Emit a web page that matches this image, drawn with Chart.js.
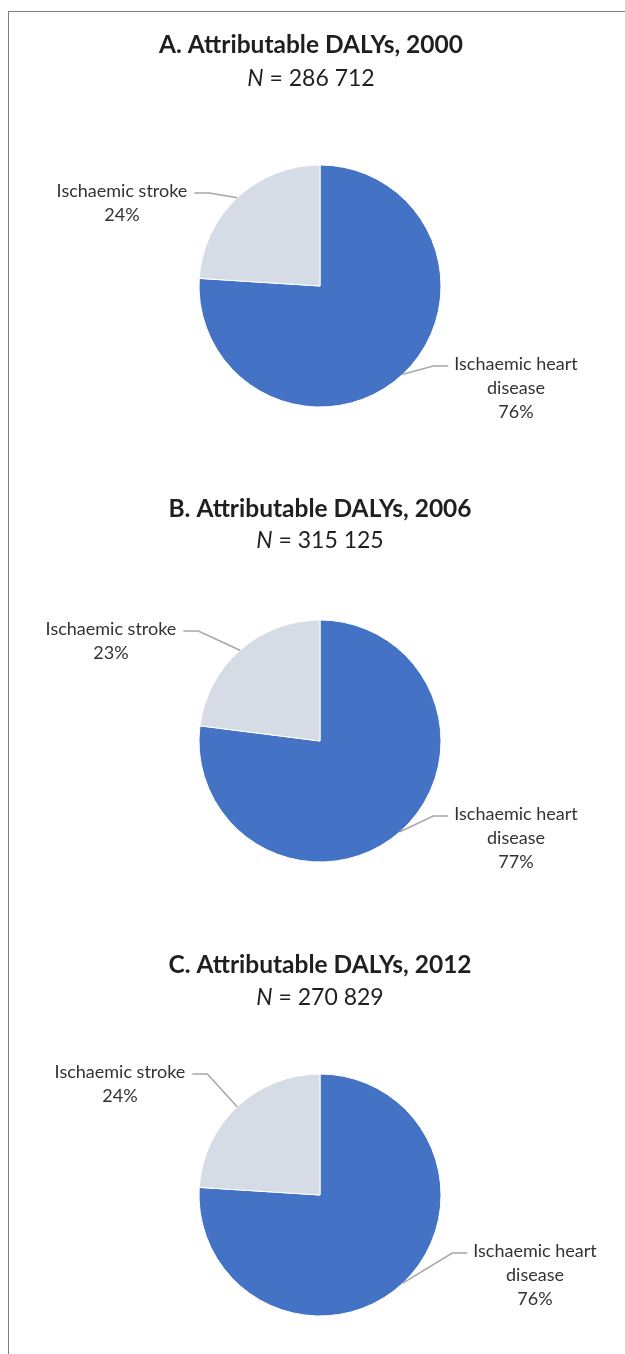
<!DOCTYPE html>
<html>
<head>
<meta charset="utf-8">
<script src="https://cdn.jsdelivr.net/npm/chart.js@4.4.1/dist/chart.umd.min.js"></script>
<style>
  html, body { margin: 0; padding: 0; background: #fff; }
  body { width: 625px; height: 1354px; position: relative; overflow: hidden; }
  #frame { position: absolute; left: 8px; top: 11px; right: -2px; bottom: -2px;
           border-top: 1px solid #7f7f7f; border-left: 1px solid #7f7f7f; }
  .panel { position: absolute; left: 0; width: 625px; }
</style>
</head>
<body>
<div id="frame"></div>
<div class="panel" style="top:0px;height:455px"><canvas id="chartA"></canvas></div>
<div class="panel" style="top:455px;height:455px"><canvas id="chartB"></canvas></div>
<div class="panel" style="top:910px;height:444px"><canvas id="chartC"></canvas></div>
<script>
// data
var categories = ['Ischaemic heart disease', 'Ischaemic stroke'];
var categoryLines = [['Ischaemic heart', 'disease'], ['Ischaemic stroke']];
var panelLetters = ['A', 'B', 'C'];
var years = ['2000', '2006', '2012'];
var totals = ['286 712', '315 125', '270 829'];
var heartShare = [76, 77, 76];
var strokeShare = [24, 23, 24];

var colors = ['#4472C4', '#D6DCE5'];
var FONT = 'Lato, "Open Sans", sans-serif';

// per panel layout (pie centre inside canvas, title baselines, label anchors)
var layouts = [
    { cx: 320, cy: 286, titleX: 311, titleY: 53, subY: 86,
      labels: [{ dx: 196, dy: 84 }, { dx: -198, dy: -89 }] },
    { cx: 320, cy: 286, titleX: 320, titleY: 62, subY: 93,
      labels: [{ dx: 196, dy: 79 }, { dx: -209, dy: -106 }] },
    { cx: 320, cy: 285, titleX: 320, titleY: 63, subY: 95,
      labels: [{ dx: 215, dy: 62 }, { dx: -200, dy: -117 }] }
];

var pieLabels = {
    id: 'pieLabels',
    afterDatasetsDraw: function (chart, args, opts) {
        var ctx = chart.ctx;
        var meta = chart.getDatasetMeta(0);
        var data = chart.data.datasets[0].data;
        var sum = data.reduce(function (a, b) { return a + b; }, 0);
        ctx.save();
        ctx.font = '18px ' + FONT;
        ctx.fillStyle = '#333333';
        ctx.textAlign = 'center';
        ctx.textBaseline = 'alphabetic';
        meta.data.forEach(function (arc, i) {
            var p = arc.getProps(['x', 'y', 'startAngle', 'endAngle', 'outerRadius'], true);
            var mid = (p.startAngle + p.endAngle) / 2;
            var ax = p.x + Math.cos(mid) * p.outerRadius;
            var ay = p.y + Math.sin(mid) * p.outerRadius;
            var lines = categoryLines[i].concat([Math.round(data[i] / sum * 100) + '%']);
            var lx = p.x + opts.labels[i].dx;
            var ly = p.y + opts.labels[i].dy;
            var w = ctx.measureText(lines[0]).width;
            lines.forEach(function (t, k) {
                ctx.fillText(t, lx, ly + k * 24);
            });
            // leader line
            var edge, elbow, dir = Math.cos(mid) > 0 ? -1 : 1;
            if (dir < 0) { edge = lx - w / 2 - 6; elbow = lx - w / 2 - 21; }
            else { edge = lx + w / 2 + 7; elbow = lx + w / 2 + 22; }
            ctx.beginPath();
            ctx.strokeStyle = '#A6A6A6';
            ctx.lineWidth = 1.5;
            ctx.moveTo(ax, ay);
            ctx.lineTo(elbow, ly - 4);
            ctx.lineTo(edge, ly - 4);
            ctx.stroke();
        });
        ctx.restore();
    },
    afterDraw: function (chart, args, opts) {
        var ctx = chart.ctx;
        ctx.save();
        ctx.fillStyle = '#1f1f1f';
        ctx.textBaseline = 'alphabetic';
        ctx.textAlign = 'center';
        ctx.font = 'bold 24.5px ' + FONT;
        ctx.fillText(opts.title, opts.titleX, opts.titleY);
        // N = ..., with italic N
        var italic = 'italic 23px ' + FONT, normal = '23px ' + FONT;
        ctx.font = italic;
        var wN = ctx.measureText('N').width;
        ctx.font = normal;
        var rest = ' = ' + opts.total;
        var wR = ctx.measureText(rest).width;
        var x0 = opts.titleX - (wN + wR) / 2;
        ctx.textAlign = 'left';
        ctx.font = italic;
        ctx.fillText('N', x0, opts.subY);
        ctx.font = normal;
        ctx.fillText(rest, x0 + wN, opts.subY);
        ctx.restore();
    }
};

function makeChart(id, k) {
    var L = layouts[k];
    var canvas = document.getElementById(id);
    var H = canvas.parentNode.clientHeight;
    var half = 125;
    return new Chart(canvas.getContext('2d'), {
        type: 'pie',
        data: {
            labels: categories,
            datasets: [{
                data: [heartShare[k], strokeShare[k]],
                backgroundColor: colors,
                borderColor: '#ffffff',
                borderWidth: 1
            }]
        },
        options: {
            responsive: true,
            maintainAspectRatio: false,
            animation: false,
            radius: 121,
            layout: {
                padding: { left: L.cx - half, right: 625 - L.cx - half, top: L.cy - half, bottom: H - L.cy - half }
            },
            plugins: {
                legend: { display: false },
                tooltip: { enabled: false },
                pieLabels: {
                    title: panelLetters[k] + '. Attributable DALYs, ' + years[k],
                    total: totals[k],
                    titleX: L.titleX, titleY: L.titleY, subY: L.subY,
                    labels: L.labels
                }
            }
        },
        plugins: [pieLabels]
    });
}

makeChart('chartA', 0);
makeChart('chartB', 1);
makeChart('chartC', 2);
</script>
</body>
</html>
